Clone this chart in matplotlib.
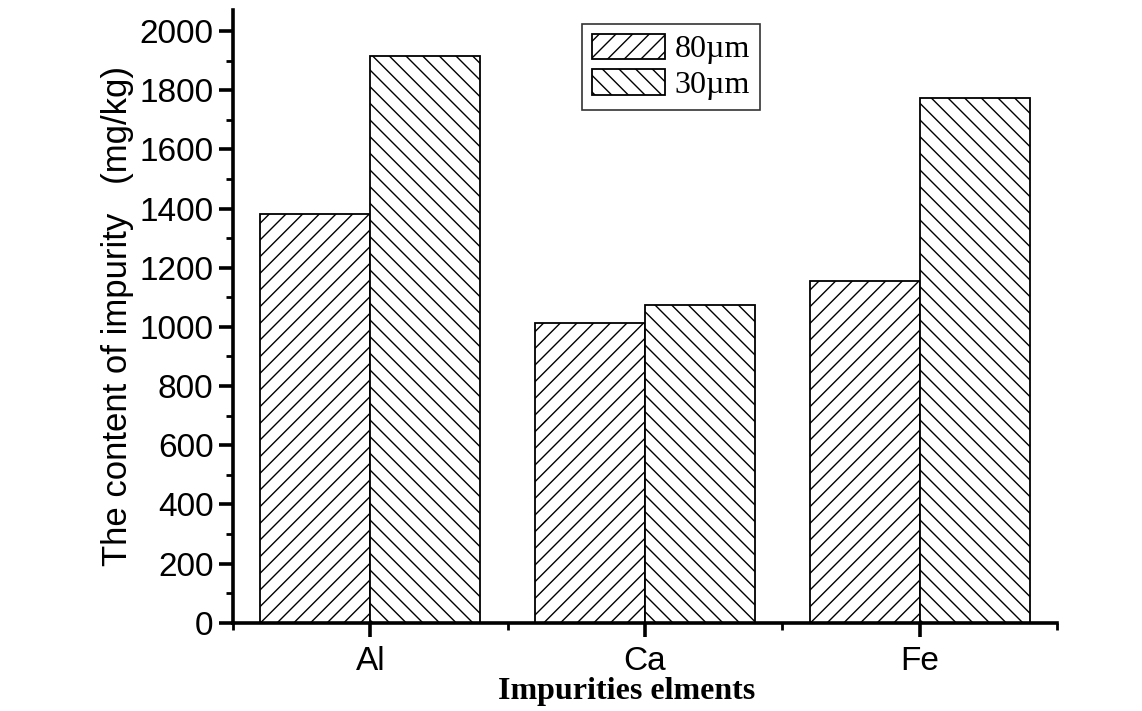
import matplotlib
matplotlib.use("Agg")
import matplotlib.pyplot as plt
import numpy as np
from matplotlib.ticker import FixedLocator

elements = ["Al", "Ca", "Fe"]
series_names = ["80\u00b5m", "30\u00b5m"]
vals_80 = [1380, 1012, 1155]
vals_30 = [1915, 1073, 1775]

plt.rcParams["hatch.linewidth"] = 1.0
plt.rcParams["font.family"] = ["Liberation Sans", "DejaVu Sans"]

fig = plt.figure(figsize=(11.42, 7.11), dpi=100)
ax = fig.add_axes([0.204, 0.124, 0.7216, 0.862])

x = np.arange(1, len(elements) + 1)
w = 0.4
ax.bar(x - w / 2, vals_80, w, color="white", edgecolor="black",
       linewidth=1.3, hatch="//", label=series_names[0])
ax.bar(x + w / 2, vals_30, w, color="white", edgecolor="black",
       linewidth=1.3, hatch="\\\\", label=series_names[1])

ax.set_xlim(0.5, 3.5)
ax.set_ylim(0, 2071)
ax.set_xticks(x)
ax.set_xticklabels(elements)
ax.xaxis.set_minor_locator(FixedLocator([0.5, 1.5, 2.5, 3.5]))
ax.yaxis.set_major_locator(FixedLocator(np.arange(0, 2001, 200)))
ax.yaxis.set_minor_locator(FixedLocator(np.arange(100, 2001, 200)))

for s in ["top", "right"]:
    ax.spines[s].set_visible(False)
for s in ["left", "bottom"]:
    ax.spines[s].set_linewidth(2.6)

ax.tick_params(which="major", direction="out", length=10, width=2.6,
               labelsize=24)
ax.tick_params(which="minor", direction="out", length=5, width=2.0)
ax.tick_params(axis="y", which="major", pad=4)
ax.tick_params(axis="x", which="major", pad=7)

ax.set_ylabel("The content of impurity   (mg/kg)", fontsize=25, labelpad=4)
fig.text(627 / 1142, 1 - 692 / 711, "Impurities elments", fontsize=23,
         fontweight="bold", family="Liberation Serif", ha="center", va="center")

leg = ax.legend(loc="upper left", bbox_to_anchor=(582 / 1142, 1 - 24 / 711),
                bbox_transform=fig.transFigure, frameon=True, fancybox=False,
                edgecolor="black", prop={"family": "Liberation Serif", "size": 23},
                handlelength=2.3, handleheight=0.85, handletextpad=0.3,
                borderpad=0.3, labelspacing=0.15, borderaxespad=0)
leg.get_frame().set_linewidth(1.2)

fig.savefig("out.png", dpi=100)
plt.close(fig)
